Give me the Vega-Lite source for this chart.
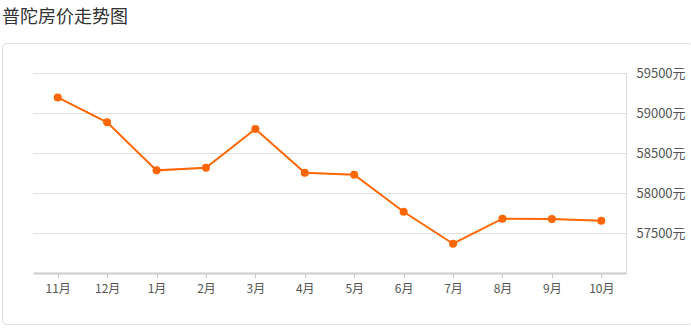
{
  "$schema": "https://vega.github.io/schema/vega-lite/v6.json",
  "autosize": "none",
  "width": 690,
  "height": 281,
  "padding": {"left": 2, "top": 43, "right": 0, "bottom": 4},
  "background": "white",
  "title": {
    "text": "普陀房价走势图",
    "anchor": "start",
    "frame": "group",
    "font": "Noto Sans CJK SC",
    "fontSize": 18,
    "fontWeight": "normal",
    "color": "#333333",
    "offset": 16
  },
  "config": {
    "view": {"stroke": "#dddddd", "cornerRadius": 4, "strokeWidth": 1},
    "font": "Noto Sans CJK SC"
  },
  "data": {
    "values": [
      {"month": "11月", "price": 59195},
      {"month": "12月", "price": 58883},
      {"month": "1月", "price": 58283},
      {"month": "2月", "price": 58316},
      {"month": "3月", "price": 58800},
      {"month": "4月", "price": 58254},
      {"month": "5月", "price": 58229},
      {"month": "6月", "price": 57766},
      {"month": "7月", "price": 57366},
      {"month": "8月", "price": 57679},
      {"month": "9月", "price": 57675},
      {"month": "10月", "price": 57654}
    ]
  },
  "encoding": {
    "x": {
      "field": "month",
      "type": "ordinal",
      "sort": null,
      "scale": {"type": "point", "padding": 0.5, "range": [31, 624]},
      "axis": {
        "title": null,
        "orient": "bottom",
        "offset": -51,
        "labelAngle": 0,
        "domainColor": "#cccccc",
        "domainWidth": 2,
        "tickColor": "#cccccc",
        "tickSize": 5,
        "labelPadding": 5,
        "labelFontSize": 12,
        "labelColor": "#555555",
        "labelFont": "Noto Sans CJK SC",
        "grid": false
      }
    }
  },
  "layer": [
    {
      "mark": {"type": "line", "color": "#ff6600", "strokeWidth": 2},
      "encoding": {
        "y": {
          "field": "price",
          "type": "quantitative",
          "scale": {"domain": [57000, 59500], "range": [230, 30], "nice": false, "zero": false},
          "axis": {
            "title": null,
            "orient": "left",
            "values": [57500, 58000, 58500, 59000, 59500],
            "labels": false,
            "ticks": false,
            "domain": false,
            "grid": true,
            "gridColor": "#dddddd",
            "gridWidth": 1
          }
        }
      }
    },
    {
      "mark": {"type": "point", "filled": true, "color": "#ff6600", "size": 64, "opacity": 1},
      "encoding": {
        "y": {
          "field": "price",
          "type": "quantitative",
          "scale": {"domain": [57000, 59500], "range": [230, 30], "nice": false, "zero": false},
          "axis": {
            "title": null,
            "orient": "right",
            "offset": -66,
            "values": [57500, 58000, 58500, 59000, 59500],
            "labelExpr": "datum.value + '元'",
            "ticks": false,
            "grid": false,
            "domainColor": "#dddddd",
            "domainWidth": 1,
            "labelPadding": 10,
            "labelFontSize": 13,
            "labelColor": "#555555",
            "labelFont": "Noto Sans CJK SC"
          }
        }
      }
    }
  ],
  "resolve": {"axis": {"y": "independent"}}
}
